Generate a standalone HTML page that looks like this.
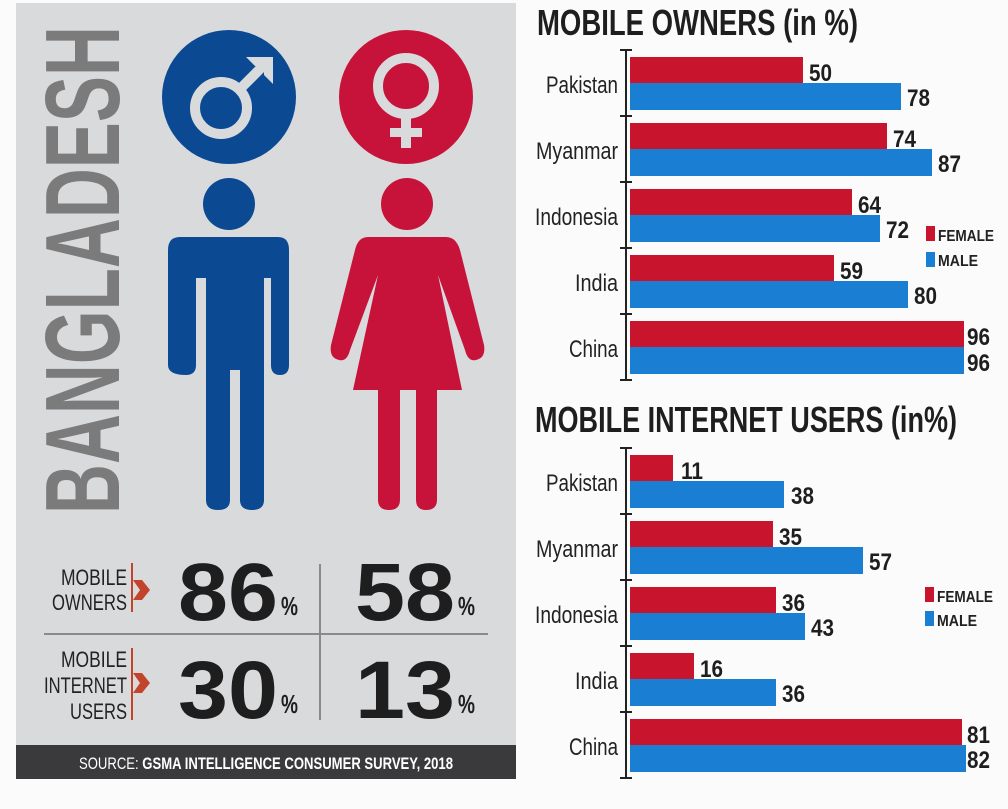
<!DOCTYPE html>
<html><head><meta charset="utf-8"><style>
html,body{margin:0;padding:0;background:#fff}
svg{display:block}
text{font-family:"Liberation Sans Narrow","Liberation Sans",sans-serif}
.b{font-weight:bold}
</style></head><body>
<svg width="1008" height="809" viewBox="0 0 1008 809" xmlns="http://www.w3.org/2000/svg">
<rect width="1008" height="809" fill="#fbfbfb"/>
<rect x="16" y="3" width="500" height="742" fill="#d9dadc"/>
<rect x="16" y="745" width="500" height="34" fill="#3a3a3c"/>
<text x="266" y="769" font-size="17" fill="#fff" text-anchor="middle" textLength="374" lengthAdjust="spacingAndGlyphs">SOURCE: <tspan class="b">GSMA INTELLIGENCE CONSUMER SURVEY, 2018</tspan></text>
<text transform="translate(119,514) rotate(-90)" class="b" font-size="106" fill="#7b7b7c" textLength="488" lengthAdjust="spacingAndGlyphs">BANGLADESH</text>
<circle cx="229" cy="97" r="67" fill="#0b4a93"/>
<circle cx="221" cy="108" r="26" fill="none" stroke="#d9dadc" stroke-width="10"/>
<line x1="240" y1="89" x2="265" y2="64" stroke="#d9dadc" stroke-width="10"/>
<polygon points="246,57 273,57 273,84 264,75 264,66 255,66" fill="#d9dadc"/>
<circle cx="406" cy="97" r="67" fill="#c7133a"/>
<circle cx="406" cy="86" r="28" fill="none" stroke="#d9dadc" stroke-width="10"/>
<rect x="401" y="118" width="10" height="30" fill="#d9dadc"/>
<rect x="390" y="128" width="32" height="9" fill="#d9dadc"/>
<circle cx="229" cy="204" r="26" fill="#0b4a93"/>
<path d="M180,237 H278 Q289,237 289,250 V365 Q289,375 280,375 Q271,375 271,365 V278 H264 V500 Q264,510 252,510 Q240,510 240,500 V370 H230 V500 Q230,510 218,510 Q206,510 206,500 V278 H196 V365 Q196,375 186,375 Q168,375 168,365 V250 Q168,237 180,237 Z" fill="#0b4a93"/>
<circle cx="407" cy="204" r="26" fill="#c7133a"/>
<path d="M368,237 H446 Q456,237 460,250 L484,345 Q486,358 476,360 Q468,362 465,350 L438,275 L462,390 H437 V500 Q437,510 426,510 Q416,510 416,500 V390 H400 V500 Q400,510 389,510 Q378,510 378,500 V390 H353 L378,275 L350,350 Q347,362 339,360 Q329,358 331,345 L355,250 Q358,237 368,237 Z" fill="#c7133a"/>
<line x1="44" y1="634" x2="488" y2="634" stroke="#8a8a8b" stroke-width="2"/>
<line x1="320" y1="564" x2="320" y2="720" stroke="#8a8a8b" stroke-width="2"/>
<g font-size="22" fill="#222" text-anchor="end">
<text x="127" y="585" textLength="66" lengthAdjust="spacingAndGlyphs">MOBILE</text>
<text x="127" y="610" textLength="75" lengthAdjust="spacingAndGlyphs">OWNERS</text>
<text x="127" y="667" textLength="66" lengthAdjust="spacingAndGlyphs">MOBILE</text>
<text x="127" y="693" textLength="83" lengthAdjust="spacingAndGlyphs">INTERNET</text>
<text x="127" y="719" textLength="57" lengthAdjust="spacingAndGlyphs">USERS</text>
</g>
<line x1="132" y1="563" x2="132" y2="612" stroke="#c2442a" stroke-width="2"/>
<polygon points="133,580 142,580 150,590 142,600 133,600 140,590" fill="#c2442a"/>
<line x1="132" y1="648" x2="132" y2="720" stroke="#c2442a" stroke-width="2"/>
<polygon points="133,673 142,673 150,683 142,693 133,693 140,683" fill="#c2442a"/>
<g class="b" fill="#1e1e1e">
<text x="178" y="620" font-size="82" textLength="100" lengthAdjust="spacingAndGlyphs">86</text>
<text x="281" y="615" font-size="26" textLength="17" lengthAdjust="spacingAndGlyphs">%</text>
<text x="355" y="620" font-size="82" textLength="100" lengthAdjust="spacingAndGlyphs">58</text>
<text x="458" y="615" font-size="26" textLength="17" lengthAdjust="spacingAndGlyphs">%</text>
<text x="178" y="718" font-size="82" textLength="100" lengthAdjust="spacingAndGlyphs">30</text>
<text x="281" y="713" font-size="26" textLength="17" lengthAdjust="spacingAndGlyphs">%</text>
<text x="355" y="718" font-size="82" textLength="100" lengthAdjust="spacingAndGlyphs">13</text>
<text x="458" y="713" font-size="26" textLength="17" lengthAdjust="spacingAndGlyphs">%</text>
</g>
<text x="537" y="35" class="b" font-size="36" fill="#1e1e1e" textLength="321" lengthAdjust="spacingAndGlyphs">MOBILE OWNERS (in %)</text>
<text x="535" y="432" class="b" font-size="36" fill="#1e1e1e" textLength="422" lengthAdjust="spacingAndGlyphs">MOBILE INTERNET USERS (in%)</text>
<g stroke="#222" stroke-width="2">
<line x1="626" y1="50" x2="626" y2="380"/>
<line x1="620" y1="50" x2="632" y2="50"/><line x1="620" y1="116" x2="632" y2="116"/><line x1="620" y1="182" x2="632" y2="182"/><line x1="620" y1="248" x2="632" y2="248"/><line x1="620" y1="314" x2="632" y2="314"/><line x1="620" y1="380" x2="632" y2="380"/>
<line x1="626" y1="448" x2="626" y2="778"/>
<line x1="620" y1="448" x2="632" y2="448"/><line x1="620" y1="514" x2="632" y2="514"/><line x1="620" y1="580" x2="632" y2="580"/><line x1="620" y1="646" x2="632" y2="646"/><line x1="620" y1="712" x2="632" y2="712"/><line x1="620" y1="778" x2="632" y2="778"/>
</g>
<g font-size="24" fill="#222" text-anchor="end" lengthAdjust="spacingAndGlyphs">
<text x="618" y="93" textLength="72" lengthAdjust="spacingAndGlyphs">Pakistan</text><text x="618" y="159" textLength="82" lengthAdjust="spacingAndGlyphs">Myanmar</text><text x="618" y="225" textLength="83" lengthAdjust="spacingAndGlyphs">Indonesia</text><text x="618" y="291" textLength="43" lengthAdjust="spacingAndGlyphs">India</text><text x="618" y="357" textLength="49" lengthAdjust="spacingAndGlyphs">China</text>
<text x="618" y="491" textLength="72" lengthAdjust="spacingAndGlyphs">Pakistan</text><text x="618" y="557" textLength="82" lengthAdjust="spacingAndGlyphs">Myanmar</text><text x="618" y="623" textLength="83" lengthAdjust="spacingAndGlyphs">Indonesia</text><text x="618" y="689" textLength="43" lengthAdjust="spacingAndGlyphs">India</text><text x="618" y="755" textLength="49" lengthAdjust="spacingAndGlyphs">China</text>
</g>
<g fill="#c8142c">
<rect x="630" y="57" width="173" height="26"/><rect x="630" y="123" width="257" height="26"/><rect x="630" y="189" width="222" height="26"/><rect x="630" y="255" width="204" height="26"/><rect x="630" y="321" width="334" height="26"/>
</g>
<g fill="#1a7fd2">
<rect x="630" y="83" width="271" height="27"/><rect x="630" y="149" width="302" height="27"/><rect x="630" y="215" width="250" height="27"/><rect x="630" y="281" width="278" height="27"/><rect x="630" y="347" width="334" height="27"/>
</g>
<g class="b" font-size="24" fill="#1e1e1e">
<text x="809" y="81" textLength="23" lengthAdjust="spacingAndGlyphs">50</text><text x="907" y="106" textLength="23" lengthAdjust="spacingAndGlyphs">78</text>
<text x="893" y="147" textLength="23" lengthAdjust="spacingAndGlyphs">74</text><text x="938" y="172" textLength="23" lengthAdjust="spacingAndGlyphs">87</text>
<text x="858" y="213" textLength="23" lengthAdjust="spacingAndGlyphs">64</text><text x="886" y="238" textLength="23" lengthAdjust="spacingAndGlyphs">72</text>
<text x="840" y="279" textLength="23" lengthAdjust="spacingAndGlyphs">59</text><text x="914" y="304" textLength="23" lengthAdjust="spacingAndGlyphs">80</text>
<text x="967" y="345" textLength="23" lengthAdjust="spacingAndGlyphs">96</text><text x="967" y="371" textLength="23" lengthAdjust="spacingAndGlyphs">96</text>
<text x="681" y="479" textLength="22" lengthAdjust="spacingAndGlyphs">11</text><text x="791" y="504" textLength="23" lengthAdjust="spacingAndGlyphs">38</text>
<text x="779" y="545" textLength="23" lengthAdjust="spacingAndGlyphs">35</text><text x="869" y="570" textLength="23" lengthAdjust="spacingAndGlyphs">57</text>
<text x="782" y="611" textLength="23" lengthAdjust="spacingAndGlyphs">36</text><text x="811" y="636" textLength="23" lengthAdjust="spacingAndGlyphs">43</text>
<text x="700" y="677" textLength="23" lengthAdjust="spacingAndGlyphs">16</text><text x="782" y="702" textLength="23" lengthAdjust="spacingAndGlyphs">36</text>
<text x="967" y="743" textLength="23" lengthAdjust="spacingAndGlyphs">81</text><text x="967" y="768" textLength="23" lengthAdjust="spacingAndGlyphs">82</text>
</g>
<g fill="#c8142c">
<rect x="630" y="455" width="43" height="26"/><rect x="630" y="521" width="143" height="26"/><rect x="630" y="587" width="146" height="26"/><rect x="630" y="653" width="64" height="26"/><rect x="630" y="719" width="332" height="26"/>
</g>
<g fill="#1a7fd2">
<rect x="630" y="481" width="154" height="27"/><rect x="630" y="547" width="233" height="27"/><rect x="630" y="613" width="175" height="27"/><rect x="630" y="679" width="146" height="27"/><rect x="630" y="745" width="336" height="27"/>
</g>
<rect x="926" y="226" width="9" height="15" fill="#c8142c"/><rect x="926" y="252" width="9" height="15" fill="#1a7fd2"/>
<text x="938" y="241" class="b" font-size="16" fill="#222" textLength="56" lengthAdjust="spacingAndGlyphs">FEMALE</text>
<text x="938" y="266" class="b" font-size="16" fill="#222" textLength="40" lengthAdjust="spacingAndGlyphs">MALE</text>
<rect x="925" y="587" width="9" height="15" fill="#c8142c"/><rect x="925" y="611" width="9" height="15" fill="#1a7fd2"/>
<text x="937" y="602" class="b" font-size="16" fill="#222" textLength="56" lengthAdjust="spacingAndGlyphs">FEMALE</text>
<text x="937" y="626" class="b" font-size="16" fill="#222" textLength="40" lengthAdjust="spacingAndGlyphs">MALE</text>
</svg>
</body></html>
